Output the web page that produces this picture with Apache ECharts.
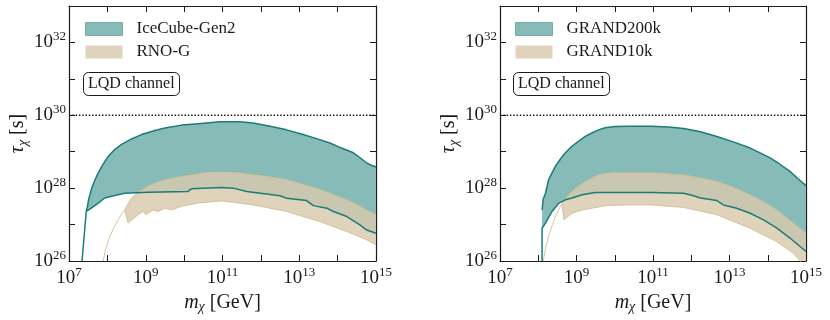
<!DOCTYPE html>
<html>
<head>
<meta charset="utf-8">
<script src="https://cdn.jsdelivr.net/npm/echarts@6/dist/echarts.min.js"></script>
<style>
  html, body { margin: 0; padding: 0; background: #fff; }
  #chart { width: 830px; height: 320px; }
</style>
</head>
<body>
<div id="chart"></div>
<script>
(function() {
  // all values are log10 (m in GeV, tau in s)

  // left panel: IceCube-Gen2 band
  var icLoX = [7.34, 7.45, 7.58, 7.76, 7.93, 8.11, 8.45, 9.06, 10.1, 10.19, 10.98, 11.28, 11.63, 12.5, 12.67, 13.19, 13.37, 13.72, 13.89, 14.24, 14.58, 14.76, 15.0];
  var icLoY = [26.0, 27.36, 27.45, 27.59, 27.73, 27.78, 27.86, 27.89, 27.91, 27.98, 28.02, 28.0, 27.91, 27.79, 27.72, 27.66, 27.52, 27.45, 27.36, 27.22, 26.99, 26.85, 26.76];
  var icHiX = [7.45, 7.48, 7.51, 7.58, 7.67, 7.76, 7.89, 8.02, 8.19, 8.37, 8.63, 8.89, 9.24, 9.5, 9.93, 10.37, 10.93, 11.45, 11.8, 12.24, 12.67, 13.1, 13.45, 13.8, 14.1, 14.41, 14.6, 14.76, 14.9, 15.0];
  var icHiY = [27.36, 27.5, 27.68, 27.96, 28.21, 28.42, 28.66, 28.87, 29.06, 29.2, 29.35, 29.47, 29.58, 29.65, 29.73, 29.77, 29.82, 29.82, 29.79, 29.7, 29.6, 29.47, 29.36, 29.24, 29.1, 28.97, 28.82, 28.69, 28.62, 28.58];

  // left panel: RNO-G band
  var rnoLoX = [8.45, 8.54, 8.8, 8.93, 9.0, 9.19, 9.32, 9.5, 9.67, 9.93, 10.37, 10.98, 11.8, 12.67, 13.54, 14.24, 14.76, 15.0];
  var rnoLoY = [27.4, 27.04, 27.27, 27.36, 27.27, 27.4, 27.36, 27.45, 27.4, 27.5, 27.59, 27.65, 27.54, 27.36, 27.08, 26.81, 26.58, 26.44];
  var rnoHiX = [7.89, 7.95, 8.02, 8.1, 8.19, 8.28, 8.36, 8.45, 8.54, 8.63, 8.8, 8.97, 9.2, 9.5, 9.93, 10.54, 10.98, 11.4, 11.8, 12.24, 12.67, 13.1, 13.54, 13.9, 14.24, 14.5, 14.76, 15.0];
  var rnoHiY = [26.0, 26.3, 26.55, 26.76, 26.96, 27.13, 27.27, 27.4, 27.58, 27.73, 27.88, 28.0, 28.12, 28.23, 28.32, 28.42, 28.44, 28.42, 28.37, 28.31, 28.23, 28.1, 27.96, 27.82, 27.68, 27.55, 27.4, 27.27];

  // right panel: GRAND200k band
  var g200LoX = [8.1, 8.1, 8.19, 8.36, 8.54, 8.71, 8.88, 9.15, 9.49, 10.97, 11.8, 12.06, 12.24, 12.67, 12.84, 13.19, 13.54, 13.89, 14.24, 14.58, 15.0];
  var g200LoY = [26.0, 26.9, 27.04, 27.36, 27.59, 27.68, 27.73, 27.82, 27.88, 27.88, 27.86, 27.79, 27.73, 27.66, 27.54, 27.45, 27.31, 27.13, 26.9, 26.63, 26.26];
  var g200HiX = [8.1, 8.13, 8.19, 8.27, 8.36, 8.45, 8.58, 8.71, 8.88, 9.06, 9.23, 9.41, 9.58, 9.75, 10.0, 10.36, 10.97, 11.4, 11.8, 12.24, 12.67, 13.1, 13.54, 13.8, 14.06, 14.3, 14.58, 14.8, 15.0];
  var g200HiY = [27.4, 27.7, 27.86, 28.23, 28.42, 28.6, 28.8, 28.97, 29.15, 29.29, 29.42, 29.52, 29.6, 29.66, 29.69, 29.7, 29.7, 29.68, 29.64, 29.55, 29.42, 29.27, 29.1, 28.97, 28.83, 28.67, 28.46, 28.25, 28.07];

  // right panel: GRAND10k band
  var g10LoX = [8.62, 8.67, 8.88, 9.15, 9.41, 9.75, 10.36, 10.97, 11.8, 12.67, 13.54, 14.24, 14.67, 14.85, 15.0];
  var g10LoY = [27.57, 27.13, 27.31, 27.4, 27.45, 27.52, 27.54, 27.54, 27.47, 27.27, 26.9, 26.53, 26.21, 26.0, 25.8];
  var g10HiX = [8.13, 8.2, 8.27, 8.36, 8.45, 8.54, 8.62, 8.75, 8.88, 9.05, 9.23, 9.58, 9.93, 10.97, 11.8, 12.24, 12.67, 13.1, 13.54, 13.9, 14.24, 14.67, 15.0];
  var g10HiY = [26.0, 26.4, 26.67, 26.97, 27.22, 27.42, 27.57, 27.76, 27.91, 28.06, 28.18, 28.37, 28.42, 28.42, 28.36, 28.28, 28.18, 28.02, 27.82, 27.62, 27.4, 27.04, 26.76];

  // dotted reference line at tau = 1e30
  var refX = [7, 15];
  var refY = [30, 30];

  var xMin = 7, xMax = 15, yMin = 26, yMax = 33;

  var teal = '#86bbb8', tealLine = '#1b7c77';
  var beige = 'rgba(216,201,173,0.82)', beigeSolid = '#dfd3bc', beigeLine = 'rgba(212,190,148,0.9)';
  var ink = '#1a1a1a';
  var font = 'Liberation Serif';

  function pairs(xs, ys) {
    var out = [];
    for (var i = 0; i < xs.length; i++) out.push([xs[i], ys[i]]);
    return out;
  }

  var labelRich = {
    b: { fontFamily: font, fontSize: 19, lineHeight: 24, color: ink },
    s: { fontFamily: font, fontSize: 13, lineHeight: 12, verticalAlign: 'top', color: ink }
  };
  function powLabelX(v) {
    var n = Math.round(v);
    return n % 2 === 1 ? '{b|10}{s|' + n + '}' : '';
  }
  function powLabelY(v) {
    var n = Math.round(v);
    return n % 2 === 0 ? '{b|10}{s|' + n + '}' : '';
  }
  var nameRich = {
    i: { fontFamily: font, fontSize: 20, fontStyle: 'italic', lineHeight: 24, color: ink },
    c: { fontFamily: font, fontSize: 14, fontStyle: 'italic', lineHeight: 13, verticalAlign: 'bottom', color: ink },
    r: { fontFamily: font, fontSize: 20, lineHeight: 24, color: ink }
  };

  function axesFor(g) {
    var line = { show: true, lineStyle: { color: ink, width: 1.2 } };
    var tick = { show: true, inside: true, length: 6, lineStyle: { color: ink, width: 1 } };
    return {
      x: [
        { type: 'value', gridIndex: g, position: 'bottom', min: xMin, max: xMax, interval: 1,
          axisLine: line, axisTick: tick, splitLine: { show: false },
          axisLabel: { formatter: powLabelX, rich: labelRich, margin: 5, showMaxLabel: true, showMinLabel: true },
          name: '{i|m}{c|χ}{r| [GeV]}', nameLocation: 'middle', nameGap: 27,
          nameTextStyle: { rich: nameRich } },
        { type: 'value', gridIndex: g, position: 'top', min: xMin, max: xMax, interval: 1,
          axisLine: line, axisTick: tick, splitLine: { show: false }, axisLabel: { show: false } }
      ],
      y: [
        { type: 'value', gridIndex: g, position: 'left', min: yMin, max: yMax, interval: 1,
          axisLine: line, axisTick: tick, splitLine: { show: false },
          axisLabel: { formatter: powLabelY, rich: labelRich, margin: 3 },
          name: '{i|τ}{c|χ}{r| [s]}', nameLocation: 'middle', nameGap: 38,
          nameTextStyle: { rich: nameRich } },
        { type: 'value', gridIndex: g, position: 'right', min: yMin, max: yMax, interval: 1,
          axisLine: line, axisTick: tick, splitLine: { show: false }, axisLabel: { show: false } }
      ]
    };
  }

  var a0 = axesFor(0), a1 = axesFor(1);
  var xAxes = a0.x.concat(a1.x);
  var yAxes = a0.y.concat(a1.y);

  function band(name, ax, loX, loY, hiX, hiY, color, z) {
    return {
      type: 'custom', name: name, xAxisIndex: ax, yAxisIndex: ax, z: z, silent: true,
      itemStyle: { color: color },
      data: [[loX[loX.length - 1], loY[loY.length - 1]]],
      renderItem: function(params, api) {
        var pts = [], i;
        for (i = 0; i < loX.length; i++) pts.push(api.coord([loX[i], loY[i]]));
        for (i = hiX.length - 1; i >= 0; i--) {
          if (hiX[i] >= loX[0]) pts.push(api.coord([hiX[i], hiY[i]]));
        }
        var cs = params.coordSys;
        pts = echarts.graphic.clipPointsByRect(pts, { x: cs.x, y: cs.y, width: cs.width, height: cs.height });
        return { type: 'polygon', shape: { points: pts }, style: { fill: color } };
      }
    };
  }

  function edge(ax, xs, ys, color, w, z) {
    return {
      type: 'line', xAxisIndex: ax, yAxisIndex: ax, z: z, silent: true,
      data: pairs(xs, ys), showSymbol: false, symbol: 'none',
      lineStyle: { color: color, width: w }, clip: true
    };
  }

  var series = [
    band('IceCube-Gen2', 0, icLoX, icLoY, icHiX, icHiY, teal, 1),
    band('RNO-G', 0, rnoLoX, rnoLoY, rnoHiX, rnoHiY, beige, 2),
    edge(0, rnoLoX, rnoLoY, beigeLine, 1, 3),
    edge(0, rnoHiX, rnoHiY, beigeLine, 1, 3),
    edge(0, icLoX, icLoY, tealLine, 1.5, 4),
    edge(0, icHiX, icHiY, tealLine, 1.5, 4),
    edge(0, refX, refY, ink, 1.5, 5),

    band('GRAND200k', 2, g200LoX, g200LoY, g200HiX, g200HiY, teal, 1),
    band('GRAND10k', 2, g10LoX, g10LoY, g10HiX, g10HiY, beige, 2),
    edge(2, g10LoX, g10LoY, beigeLine, 1, 3),
    edge(2, g10HiX, g10HiY, beigeLine, 1, 3),
    edge(2, g200LoX, g200LoY, tealLine, 1.5, 4),
    edge(2, g200HiX, g200HiY, tealLine, 1.5, 4),
    edge(2, refX, refY, ink, 1.5, 5)
  ];
  series[6].lineStyle.type = [1.5, 1.8];
  series[13].lineStyle.type = [1.5, 1.8];

  function legendAt(left, names) {
    return {
      orient: 'vertical', left: left, top: 20.5, padding: 0, itemGap: 6,
      itemWidth: 37, itemHeight: 13, selectedMode: false,
      textStyle: { fontFamily: font, fontSize: 17, color: ink, padding: [0, 0, 0, 9] },
      data: [
        { name: names[0], icon: 'rect', itemStyle: { color: teal, borderColor: '#73aeaa', borderWidth: 1 } },
        { name: names[1], icon: 'rect', itemStyle: { color: beigeSolid, borderWidth: 0 } }
      ]
    };
  }

  function boxAt(left) {
    return {
      text: 'LQD channel', left: left, top: 72, padding: [3, 5, 3, 5],
      borderColor: ink, borderWidth: 1, borderRadius: 5,
      textStyle: { fontFamily: font, fontSize: 16, fontWeight: 'normal', color: ink, lineHeight: 18 }
    };
  }

  var chart = echarts.init(document.getElementById('chart'), null, { renderer: 'canvas' });
  chart.setOption({
    animation: false,
    backgroundColor: '#fff',
    grid: [
      { left: 69, top: 6, width: 307, height: 255 },
      { left: 500, top: 6, width: 306, height: 255 }
    ],
    xAxis: xAxes,
    yAxis: yAxes,
    legend: [
      legendAt(85, ['IceCube-Gen2', 'RNO-G']),
      legendAt(515, ['GRAND200k', 'GRAND10k'])
    ],
    title: [boxAt(83), boxAt(513)],
    series: series
  });
})();
</script>
</body>
</html>
